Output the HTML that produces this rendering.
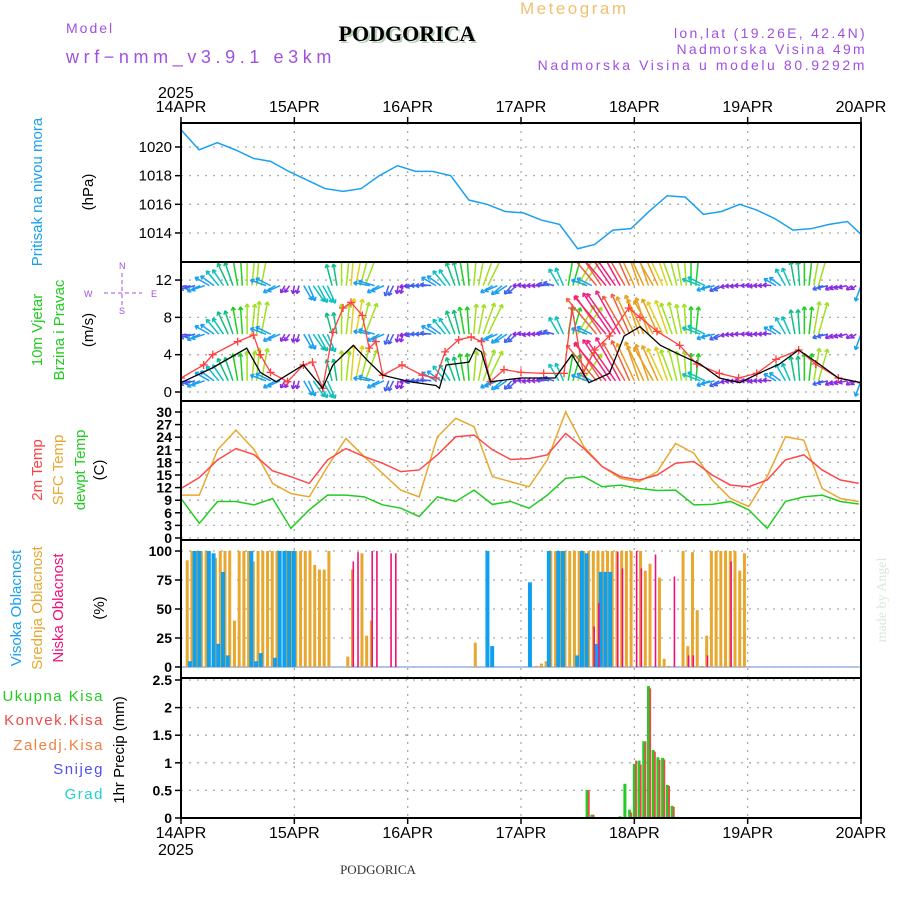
<!DOCTYPE html>
<html><head><meta charset="utf-8"><style>
html,body{margin:0;padding:0;background:#fff;width:900px;height:900px;overflow:hidden}
svg{display:block}
text{font-family:"Liberation Sans",sans-serif}
</style></head><body>
<svg id="chart" width="900" height="900" viewBox="0 0 900 900">
<text x="520" y="14" fill="#f0c070" font-size="17" letter-spacing="2.5">Meteogram</text>
<text x="66" y="33" fill="#a050e0" font-size="14" letter-spacing="2">Model</text>
<text x="66" y="63" fill="#a050e0" font-size="18" letter-spacing="4.6">wrf−nmm_v3.9.1 e3km</text>
<text x="409" y="43" text-anchor="middle" fill="#b8d0b8" font-size="22" font-weight="bold" style="font-family:'Liberation Serif',serif">PODGORICA</text>
<text x="407" y="41" text-anchor="middle" fill="#000" font-size="22" font-weight="bold" style="font-family:'Liberation Serif',serif">PODGORICA</text>
<text x="867" y="38" text-anchor="end" fill="#a050e0" font-size="14" letter-spacing="2.3">lon,lat (19.26E, 42.4N)</text>
<text x="867" y="54" text-anchor="end" fill="#a050e0" font-size="14" letter-spacing="2.3">Nadmorska Visina 49m</text>
<text x="867" y="70" text-anchor="end" fill="#a050e0" font-size="14" letter-spacing="2.6">Nadmorska Visina u modelu 80.9292m</text>
<text x="158" y="98" fill="#000" font-size="16">2025</text>
<text x="158" y="855" fill="#000" font-size="16">2025</text>
<text x="378" y="874" text-anchor="middle" fill="#333" font-size="13" style="font-family:'Liberation Serif',serif">PODGORICA</text>
<text transform="translate(886,600) rotate(-90)" text-anchor="middle" fill="#d8e8d8" font-size="14" style="font-family:'Liberation Serif',serif">made by Angel</text>
<text transform="translate(42,192) rotate(-90)" text-anchor="middle" fill="#1aa0f0" font-size="15">Pritisak na nivou mora</text>
<text transform="translate(93,192) rotate(-90)" text-anchor="middle" fill="#000" font-size="15">(hPa)</text>
<text transform="translate(42,330) rotate(-90)" text-anchor="middle" fill="#22cc22" font-size="15">10m Vjetar</text>
<text transform="translate(64,330) rotate(-90)" text-anchor="middle" fill="#22cc22" font-size="15">Brzina i Pravac</text>
<text transform="translate(93,330) rotate(-90)" text-anchor="middle" fill="#000" font-size="15">(m/s)</text>
<g fill="#a050e0" stroke="#a050e0" font-size="9">
<text x="119" y="269" stroke="none">N</text><text x="119" y="314" stroke="none">S</text>
<text x="84" y="297" stroke="none">W</text><text x="151" y="297" stroke="none">E</text>
<line x1="122" y1="273" x2="122" y2="305" stroke-dasharray="4,3"/><line x1="104" y1="293" x2="142" y2="293" stroke-dasharray="4,3"/>
</g>
<text transform="translate(42,470) rotate(-90)" text-anchor="middle" fill="#ff4040" font-size="15">2m Temp</text>
<text transform="translate(63,470) rotate(-90)" text-anchor="middle" fill="#e8a830" font-size="15">SFC Temp</text>
<text transform="translate(85,470) rotate(-90)" text-anchor="middle" fill="#22cc22" font-size="15">dewpt Temp</text>
<text transform="translate(104,470) rotate(-90)" text-anchor="middle" fill="#000" font-size="15">(C)</text>
<text transform="translate(21,608) rotate(-90)" text-anchor="middle" fill="#1aa0f0" font-size="15">Visoka Oblacnost</text>
<text transform="translate(42,608) rotate(-90)" text-anchor="middle" fill="#e8a830" font-size="15">Srednja Oblacnost</text>
<text transform="translate(63,608) rotate(-90)" text-anchor="middle" fill="#f0107a" font-size="15">Niska Oblacnost</text>
<text transform="translate(104,608) rotate(-90)" text-anchor="middle" fill="#000" font-size="15">(%)</text>
<text x="104" y="701" text-anchor="end" fill="#22cc22" font-size="15" letter-spacing="1.5">Ukupna Kisa</text>
<text x="104" y="725" text-anchor="end" fill="#f04848" font-size="15" letter-spacing="1.5">Konvek.Kisa</text>
<text x="104" y="750" text-anchor="end" fill="#f08040" font-size="15" letter-spacing="1.5">Zaledj.Kisa</text>
<text x="104" y="774" text-anchor="end" fill="#5050f0" font-size="15" letter-spacing="1.5">Snijeg</text>
<text x="104" y="799" text-anchor="end" fill="#20d0d0" font-size="15" letter-spacing="1.5">Grad</text>
<text transform="translate(124,750) rotate(-90)" text-anchor="middle" fill="#000" font-size="15">1hr Precip (mm)</text>
<g id="plot"></g>
</svg>
<script>
// ---------- data ----------
const dayLabels = ["14APR","15APR","16APR","17APR","18APR","19APR","20APR"];
const pressTicks = [1014,1016,1018,1020];
const windTicks = [0,4,8,12];
const tempTicks = [0,3,6,9,12,15,18,21,24,27,30];
const cloudTicks = [0,25,50,75,100];
const precipTicks = [0,0.5,1,1.5,2,2.5];
const precipTickLabels = ["0","0.5","1","1.5","2","2.5"];

const pressDays = [0,0.16,0.32,0.48,0.64,0.79,0.95,1.11,1.27,1.43,1.59,1.75,1.91,2.07,2.22,2.38,2.54,2.70,2.86,3.02,3.18,3.34,3.50,3.65,3.81,3.97,4.13,4.29,4.45,4.61,4.77,4.93,5.08,5.24,5.40,5.56,5.72,5.88,6.0];
const pressVals = [1021.2,1019.8,1020.3,1019.8,1019.2,1019.0,1018.3,1017.7,1017.1,1016.9,1017.1,1018.0,1018.7,1018.3,1018.3,1018.0,1016.3,1016.0,1015.5,1015.4,1014.9,1014.6,1012.9,1013.2,1014.2,1014.3,1015.5,1016.6,1016.5,1015.3,1015.5,1016.0,1015.6,1015.0,1014.2,1014.3,1014.6,1014.8,1013.9];

const temp2m = [11.8,14.4,18.6,21.3,19.8,16,14.6,13,18.6,21.3,19.4,17.8,15.8,16.2,19.8,24.1,24.5,21,18.7,18.9,19.8,24.9,21.3,17,14.6,13.8,15,17.8,18.2,15,12.6,12.2,13.8,18.6,19.8,16.2,13.8,13];
const tempSfc = [10.2,10.2,21,25.7,21,13,10.6,9.8,17,23.7,19.4,15.4,11.4,9.8,24.1,28.5,26.5,14.6,13.4,12.2,18.6,30,21.7,17,14.2,13.4,15.8,22.5,20.2,13.8,9.4,7.5,14.6,24.1,23.3,11.8,9.4,8.7];
const tempDew = [9.4,3.5,8.7,8.7,7.9,9.4,2.3,6.7,10.2,10.2,9.8,7.9,7.1,5.1,9.8,8.7,11.4,8,8.7,7.1,10.2,14.2,14.6,12.2,12.6,11.8,11.3,11.4,7.9,8,8.7,6.7,2.3,8.7,9.8,10.2,8.7,8.1];

const gustDays = [0,0.2,0.28,0.5,0.64,0.7,0.79,0.94,1.08,1.16,1.25,1.34,1.43,1.5,1.6,1.66,1.72,1.78,1.95,2.13,2.25,2.33,2.45,2.56,2.65,2.73,2.85,3.0,3.2,3.38,3.45,3.55,3.65,3.78,3.95,4.05,4.2,4.4,4.55,4.75,4.92,5.08,5.25,5.45,5.6,5.8,6.0];
const gustVals = [1.5,2.9,4,5.4,6.1,4,2.1,1.1,2.9,3.2,0.4,6.4,9,9.6,8.2,4.7,5.4,1.8,2.9,1.8,1.5,4.3,5.6,5.9,5.4,1.1,2.4,2.1,2,2,9,2,4.5,6,9,8,6.5,5,3,2,1.5,2,3.5,4.5,3,1.5,1];
const speedDays = [0,0.28,0.58,0.7,0.84,1.08,1.25,1.34,1.52,1.66,1.78,2.02,2.25,2.28,2.34,2.54,2.6,2.65,2.73,3.0,3.3,3.45,3.6,3.78,3.91,4.05,4.23,4.4,4.58,4.75,4.93,5.1,5.28,5.45,5.63,5.8,6.0];
const speedVals = [1,2.6,4.7,2.1,1.1,2.9,0.4,2.9,5,3.2,1.8,1.1,0.7,0.4,2.9,3.2,4.7,4.3,1.1,1.5,1.5,4,1,2,6,7,5,4,3,1.5,1,2,3,4.5,3,1.5,1];

const arrowDir = [250,250,245,300,320,335,350,0,5,290,240,210,
 190,150,145,150,345,0,5,15,280,240,200,190,
 260,265,270,300,320,340,350,5,20,240,230,220,
 270,265,270,280,330,10,30,290,320,320,325,330,
 335,335,330,335,340,350,0,290,250,240,260,265,
 270,265,270,300,330,350,0,10,250,240,250,230,200];
const arrowSpd = [1.5,2,2.5,3,3.5,4.5,5,5.5,6,3,2.5,1.5,
 1.5,3,3.5,3.5,4,5.5,6.5,6,3,2.5,2,1.5,
 1.5,2,2,3,3.5,4.5,5,5.5,6,2.5,2.5,2,
 1.5,1.5,1.5,2,3.5,5,6,3,8.5,9,9,8,
 7.5,7,7,6.5,6,5.5,5,3.5,2.5,2,1.5,1.5,
 1.2,1.5,1.5,2.5,3.5,4.5,5,6,2,1.5,1.5,1.2,3];
const arrowRows = [11.4,6.2,1.2];

const midHours = [1,2,3,4,5,7,8,9,10,11,12,13,14,15,16,17,18,19,20,22,23,24,25,26,27,28,29,30,31,35,36,38,39,40,62,75,76,77,78,79,80,81,82,83,84,85,86,87,88,89,90,91,92,93,94,95,97,98,99,101,102,103,106,107,108,109,110,111,112,113,114,115,116,117,118,119];
const midVals = [92,100,100,100,100,94,100,100,100,40,100,100,100,91,100,100,100,100,100,100,100,100,100,100,100,88,84,84,100,9,84,98,27,40,21,1,3,5,100,100,100,100,100,100,100,100,100,100,100,100,100,100,100,100,100,100,100,83,89,77,7,1,100,18,99,49,1,27,100,100,100,100,100,100,83,98];
const highHours = [2,3,4,6,7,8,9,10,15,16,17,20,21,22,23,24,65,66,74,78,80,81,84,85,86,88,89,90,91];
const highVals = [5,100,100,100,98,20,82,10,100,5,12,8,100,100,100,100,100,18,73,100,100,100,10,100,98,20,82,82,82];
const lowHours = [36,37,40,41,44,45,87,88,92,93,96,97,100,104,107,108,111,116];
const lowVals = [91,99,100,100,98,98,35,55,99,85,100,85,97,78,10,10,10,91];

const rainHours = [86,87,93,94,95,96,97,98,99,100,101,102,103,104,105];
const rainTotal = [0.51,0.06,0.03,0.62,0.15,0.98,1.04,1.39,2.39,1.23,1.1,1.09,0.6,0.22,0.02];
const rainConv = [0.5,0.06,0,0.02,0.1,1.04,0.97,1.39,2.35,1.2,1.05,1.06,0.58,0.2,0.02];

// ---------- drawing ----------
const NS="http://www.w3.org/2000/svg";
const plot=document.getElementById('plot');
const X0=181,X1=861,DAYW=(X1-X0)/6;
const X=d=>X0+d*DAYW;
const XH=h=>X0+h*DAYW/24;
const P=[{t:123,b:262},{t:262,b:401},{t:401,b:540},{t:540,b:678},{t:678,b:818}];
const Yp=v=>147+(1020-v)*14.33;
const Yw=v=>392-v*9.33;
const Yt=v=>538-v*4.2;
const Yc=v=>667-v*1.16;
const Yr=v=>818-v*55.2;
function el(tag,attrs,parent){const e=document.createElementNS(NS,tag);for(const k in attrs)e.setAttribute(k,attrs[k]);(parent||plot).appendChild(e);return e;}

const defs=el('defs',{});
P.forEach((p,i)=>{const c=el('clipPath',{id:'c'+i},defs);el('rect',{x:X0,y:p.t,width:X1-X0,height:p.b-p.t},c);});

const grid=el('g',{stroke:'#aaa','stroke-width':1.3,'stroke-dasharray':'2,6'});


P.forEach(p=>{for(let d=1;d<6;d++)el('line',{x1:X(d),x2:X(d),y1:p.t,y2:p.b},grid);});
function hgrid(ticks,yf,fmt,name,bold){
  const g=el('g',{});
  
  
  ticks.forEach((v,i)=>{
    const y=yf(v);
    el('line',{x1:X0,x2:X1,y1:y,y2:y,stroke:'#aaa','stroke-width':1.3,'stroke-dasharray':'2,6'},g);
    el('line',{x1:X0-6,x2:X0,y1:y,y2:y,stroke:'#000','stroke-width':1.5},g);
    const t=el('text',{x:X0-9,y:y+5,'text-anchor':'end','font-size':bold?14:15,'font-weight':bold?'bold':'normal',fill:'#000'},g);
    t.textContent=fmt?fmt[i]:v;
  });
}
hgrid(pressTicks,Yp,null,'pressure-y-axis');
hgrid(windTicks,Yw,null,'wind-y-axis');
hgrid(tempTicks,Yt,null,'temp-y-axis',true);
hgrid(cloudTicks,Yc,null,'cloud-y-axis',true);
hgrid(precipTicks,Yr,precipTickLabels,'precip-y-axis',true);

dayLabels.forEach((s,i)=>{
  const t=el('text',{x:X(i),y:112,'text-anchor':'middle','font-size':16,fill:'#000'});
  
  
  t.textContent=s;
  const b=el('text',{x:X(i),y:838,'text-anchor':'middle','font-size':16,fill:'#000'});
  
  
  b.textContent=s;
  el('line',{x1:X(i),x2:X(i),y1:117,y2:123,stroke:'#000','stroke-width':1.5});
  el('line',{x1:X(i),x2:X(i),y1:818,y2:824,stroke:'#000','stroke-width':1.5});
});

const pl=el('polyline',{points:pressDays.map((d,i)=>X(d)+','+Yp(pressVals[i])).join(' '),fill:'none',stroke:'#1aa0f0','stroke-width':1.5,'clip-path':'url(#c0)'});



function spdColor(s){
  if(s<1.6)return '#8a2be2';
  if(s<2.3)return '#4060f0';
  if(s<3.1)return '#1aa0f0';
  if(s<3.8)return '#10c0c0';
  if(s<4.6)return '#10c080';
  if(s<5.3)return '#20d020';
  if(s<6.1)return '#a0e020';
  if(s<7)return '#e0d020';
  if(s<8)return '#e8a020';
  if(s<8.8)return '#f06040';
  return '#f02080';
}
const wg=el('g',{'clip-path':'url(#c1)','stroke-width':1.5,fill:'none'});


arrowRows.forEach(r=>{
  arrowDir.forEach((dir,i)=>{
    const reps=i<arrowDir.length-1?2:1;
    for(let k=0;k<reps;k++){
      const x=XH(i*2+k),y=Yw(r),L=arrowSpd[i]*5.5,a=(dir+(k?6:0))*Math.PI/180;
      const x2=x+L*Math.sin(a),y2=y-L*Math.cos(a);
      const c=spdColor(arrowSpd[i]);
      const ar=el('g',{stroke:c},wg);
      
      
      el('line',{x1:x,y1:y,x2:x2,y2:y2},ar);
      const h=4;
      [a+Math.PI*0.82,a-Math.PI*0.82].forEach(b=>el('line',{x1:x2,y1:y2,x2:x2+h*Math.sin(b),y2:y2-h*Math.cos(b)},ar));
    }
  });
});
const gl=el('polyline',{points:gustDays.map((d,i)=>X(d)+','+Yw(gustVals[i])).join(' '),fill:'none',stroke:'#ff4040','stroke-width':1.3,'clip-path':'url(#c1)'});


const gm=el('g',{stroke:'#ff4040','stroke-width':1.3,'clip-path':'url(#c1)'});


gustDays.forEach((d,i)=>{const x=X(d),y=Yw(gustVals[i]);el('path',{d:`M${x-4},${y}H${x+4}M${x},${y-4}V${y+4}`},gm);});
const sl=el('polyline',{points:speedDays.map((d,i)=>X(d)+','+Yw(speedVals[i])).join(' '),fill:'none',stroke:'#000','stroke-width':1.3,'clip-path':'url(#c1)'});



const tStep=5.98/(temp2m.length-1);
[[tempSfc,'#e8a830','sfc-temp-line'],[temp2m,'#ff4848','temp-2m-line'],[tempDew,'#22cc22','dewpoint-line']].forEach(([arr,c,n])=>{
  const l=el('polyline',{points:arr.map((v,i)=>X(i*tStep)+','+Yt(v)).join(' '),fill:'none',stroke:c,'stroke-width':1.5,'clip-path':'url(#c2)'});
  
  
});

function bars(hours,vals,c,off,w,name,yf,clip){
  const g=el('g',{fill:c,'clip-path':clip});
  
  
  hours.forEach((h,i)=>{const y=yf(vals[i]);const b=el('rect',{x:XH(h)+off,y:y,width:w,height:Math.max(0,yf(0)-y)},g);
    
    });
}
el('line',{x1:X0,x2:X1,y1:Yc(0),y2:Yc(0),stroke:'#9ab0e0','stroke-width':1.5});
bars(midHours,midVals,'#e8a830',0,3,'mid-cloud',Yc,'url(#c3)');
bars(highHours,highVals,'#10a0f0',-2.5,4,'high-cloud',Yc,'url(#c3)');
bars(lowHours,lowVals,'#f0107a',1.5,1.6,'low-cloud',Yc,'url(#c3)');

bars(rainHours,rainTotal,'#22cc22',-1.5,3,'total-precip',Yr,'url(#c4)');
bars(rainHours,rainConv,'#f04848',0.8,1.8,'convective-precip',Yr,'url(#c4)');

const fr=el('g',{fill:'none',stroke:'#000','stroke-width':2});


P.forEach(p=>el('rect',{x:X0,y:p.t,width:X1-X0,height:p.b-p.t},fr));
</script>
</body></html>
